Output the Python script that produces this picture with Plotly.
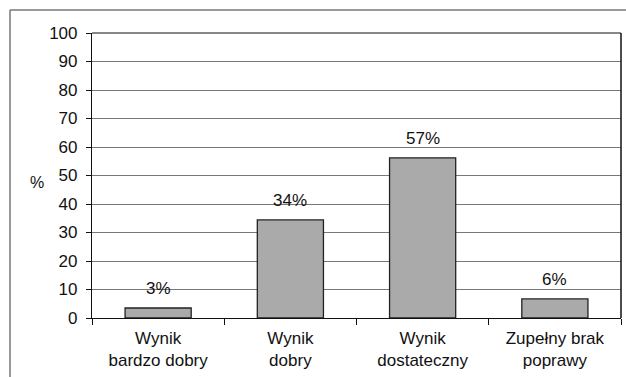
import plotly.graph_objects as go

categories = ["Wynik<br>bardzo dobry", "Wynik<br>dobry", "Wynik<br>dostateczny", "Zupełny brak<br>poprawy"]
values = [3.5, 34.4, 56.2, 6.7]
labels = ["3%", "34%", "57%", "6%"]
y_ticks = list(range(0, 101, 10))

fig = go.Figure()
fig.add_trace(go.Bar(
    x=categories, y=values,
    marker=dict(color="#aaaaaa", line=dict(color="#222", width=1.3)),
    width=0.5,
))
for c, v, t in zip(categories, values, labels):
    fig.add_annotation(x=c, y=v, text=t, showarrow=False, yanchor="bottom",
                       yshift=8, font=dict(size=17, color="#111"))

fig.add_annotation(xref="paper", yref="paper", x=-0.104, y=0.477, text="%",
                   xanchor="center", yanchor="middle",
                   showarrow=False, font=dict(size=16, color="#111"))

fig.update_layout(
    width=626, height=377,
    margin=dict(l=92, r=5, t=33, b=59),
    paper_bgcolor="white", plot_bgcolor="white",
    font=dict(family="Liberation Sans, Arial, sans-serif", size=17, color="#111"),
    showlegend=False,
    xaxis=dict(
        showline=True, linecolor="#111", linewidth=1.2,
        ticks="outside", ticklen=6, tickcolor="#111",
        tickson="boundaries", tickfont=dict(size=17),
        ticklabelstandoff=4,
    ),
    yaxis=dict(
        range=[0, 100], tickvals=y_ticks,
        showline=True, linecolor="#111", linewidth=1.2,
        ticks="outside", ticklen=5, tickcolor="#111",
        showgrid=True, gridcolor="#777", gridwidth=1.2,
        tickfont=dict(size=17), ticklabelstandoff=5,
        zeroline=False,
    ),
)
# right and top border of plot area
fig.add_shape(type="line", xref="paper", yref="paper", x0=1, x1=1, y0=0, y1=1,
              line=dict(color="#111", width=1.5))
fig.add_shape(type="line", xref="paper", yref="paper", x0=0, x1=1, y0=1, y1=1,
              line=dict(color="#111", width=1.2))
# outer frame (top and left)
fig.add_shape(type="line", xref="paper", yref="paper", x0=-0.155, x1=1.2, y0=1.0807, y1=1.0807,
              line=dict(color="#777", width=1.5))
fig.add_shape(type="line", xref="paper", yref="paper", x0=-0.155, x1=-0.155, y0=-0.5, y1=1.0807,
              line=dict(color="#777", width=1.5))

fig.write_html("out.html")
